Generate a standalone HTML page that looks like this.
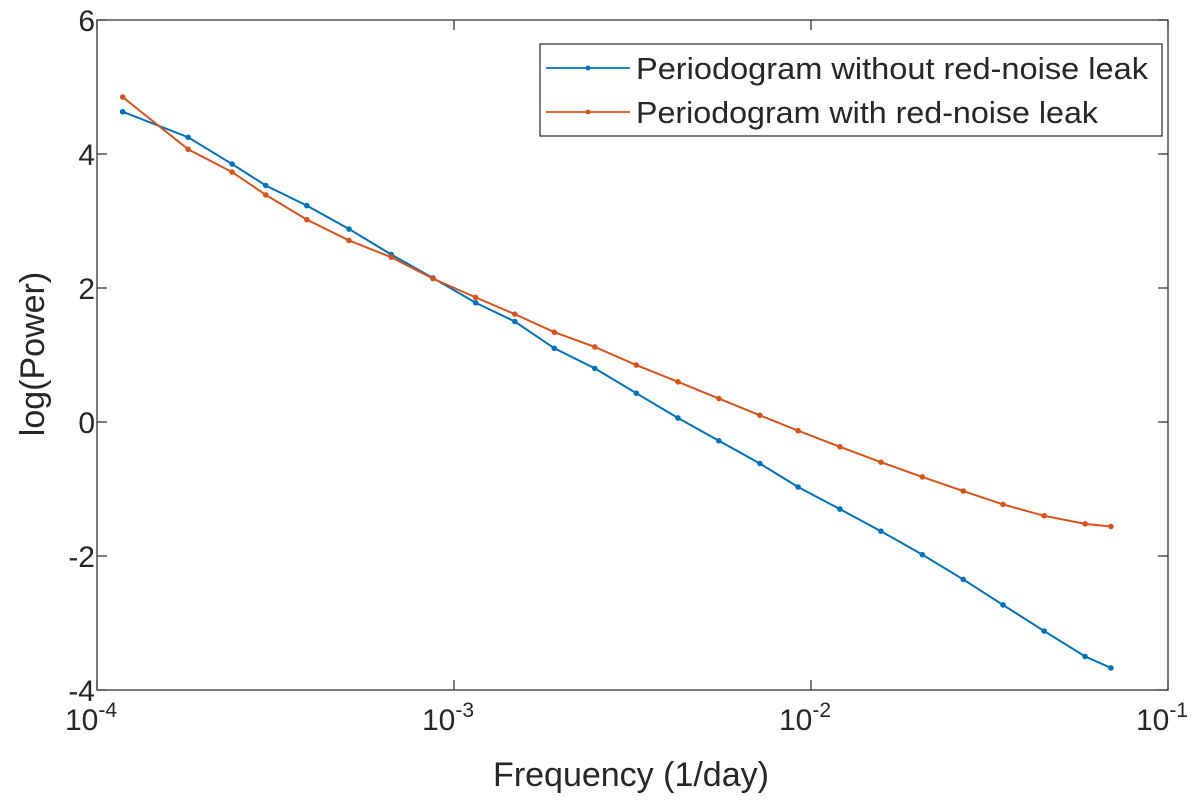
<!DOCTYPE html>
<html><head><meta charset="utf-8"><style>
body{margin:0;background:#fff;}
svg text{font-family:"Liberation Sans",Arial,sans-serif;fill:#262626;}
</style></head><body>
<svg id="chart" width="1200" height="800">
<rect x="0" y="0" width="1200" height="800" fill="#fff"/>
<g id="axes"></g><g id="series"></g>
<g>
<rect x="540" y="44" width="622" height="92" fill="#fff" stroke="#262626" stroke-width="1.2"/>
<line x1="546" y1="68" x2="630" y2="68" stroke="#0072BD" stroke-width="1.8"/><circle cx="588" cy="68" r="2.5" fill="#0072BD"/>
<text x="636" y="79" font-size="31" textLength="512" lengthAdjust="spacingAndGlyphs">Periodogram without red-noise leak</text>
<line x1="546" y1="112" x2="630" y2="112" stroke="#D95319" stroke-width="1.8"/><circle cx="588" cy="112" r="2.5" fill="#D95319"/>
<text x="636" y="123" font-size="31" textLength="462" lengthAdjust="spacingAndGlyphs">Periodogram with red-noise leak</text>
</g>
<text x="631" y="786" font-size="34" text-anchor="middle">Frequency (1/day)</text>
<text transform="translate(44,354) rotate(-90)" font-size="34" text-anchor="middle">log(Power)</text>
</svg>
<script>
const freqs=[1.18e-4,1.80e-4,2.39e-4,2.97e-4,3.87e-4,5.08e-4,6.67e-4,8.73e-4,1.15e-3,1.48e-3,1.91e-3,2.48e-3,3.24e-3,4.24e-3,5.52e-3,7.19e-3,9.20e-3,1.205e-2,1.57e-2,2.05e-2,2.67e-2,3.45e-2,4.50e-2,5.86e-2,6.92e-2];
const withoutLeak=[4.63,4.25,3.85,3.53,3.23,2.88,2.5,2.15,1.78,1.5,1.1,0.8,0.43,0.06,-0.28,-0.62,-0.97,-1.3,-1.63,-1.98,-2.35,-2.73,-3.12,-3.5,-3.67];
const withLeak=[4.85,4.07,3.73,3.39,3.02,2.71,2.46,2.14,1.86,1.61,1.34,1.12,0.85,0.6,0.35,0.1,-0.13,-0.37,-0.6,-0.82,-1.03,-1.23,-1.4,-1.52,-1.56];
const xTickExps=[-4,-3,-2,-1];
const yTicks=[-4,-2,0,2,4,6];
const L=97,R=1168,T=20,B=690;
const NS="http://www.w3.org/2000/svg";
function xs(f){return L+(Math.log10(f)+4)/3*(R-L);}
function ys(v){return B-(v+4)/10*(B-T);}
function mk(tag,attrs,parent){const e=document.createElementNS(NS,tag);for(const k in attrs)e.setAttribute(k,attrs[k]);parent.appendChild(e);return e;}
const ax=document.getElementById('axes');
const frame=mk('rect',{x:L,y:T,width:R-L,height:B-T,fill:'none',stroke:'#262626','stroke-width':1.2},ax);


xTickExps.forEach(e=>{const x=xs(Math.pow(10,e));
mk('line',{x1:x,y1:B,x2:x,y2:B-10,stroke:'#262626','stroke-width':1.2},ax);
mk('line',{x1:x,y1:T,x2:x,y2:T+10,stroke:'#262626','stroke-width':1.2},ax);
const t=mk('text',{x:x-6,y:B+40,'font-size':30,'text-anchor':'middle'},ax);


t.textContent='10';
const s=mk('tspan',{dy:-13,'font-size':21},t);s.textContent=String(e);});
yTicks.forEach(v=>{const y=ys(v);
mk('line',{x1:L,y1:y,x2:L+10,y2:y,stroke:'#262626','stroke-width':1.2},ax);
mk('line',{x1:R,y1:y,x2:R-10,y2:y,stroke:'#262626','stroke-width':1.2},ax);
const t=mk('text',{x:L-2,y:y+11,'font-size':30,'text-anchor':'end'},ax);


t.textContent=String(v);});
const sg=document.getElementById('series');
[[withoutLeak,'#0072BD','series-without-leak'],[withLeak,'#D95319','series-with-leak']].forEach(([vals,c,n])=>{
const p=mk('polyline',{points:vals.map((v,i)=>xs(freqs[i])+','+ys(v)).join(' '),fill:'none',stroke:c,'stroke-width':2},sg);


vals.forEach((v,i)=>{const d=mk('circle',{cx:xs(freqs[i]),cy:ys(v),r:2.8,fill:c},sg);

});});
</script>
</body></html>
